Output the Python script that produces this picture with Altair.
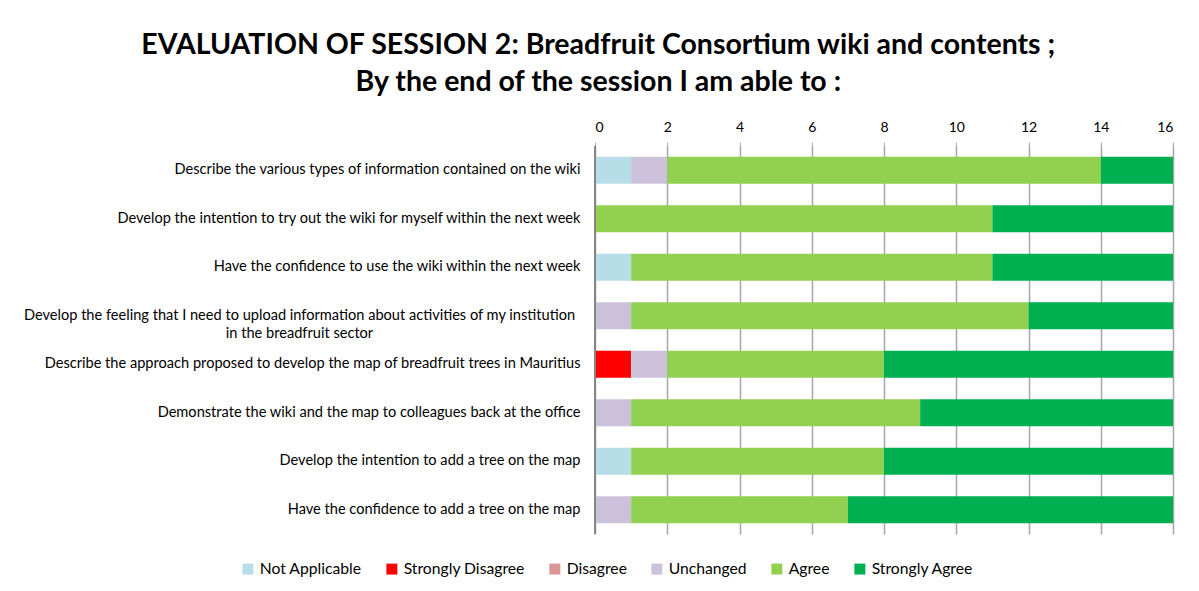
import altair as alt
import pandas as pd

statements = [
    "Describe the various types of information contained on the wiki",
    "Develop the intention to try out the wiki for myself within the next week",
    "Have the confidence to use the wiki within the next week",
    "Develop the feeling that I need to upload information about activities of my institution|in the breadfruit sector",
    "Describe the approach proposed to develop the map of breadfruit trees in Mauritius",
    "Demonstrate the wiki and the map to colleagues back at the office",
    "Develop the intention to add a tree on the map",
    "Have the confidence to add a tree on the map",
]
responses = ["Not Applicable", "Strongly Disagree", "Disagree", "Unchanged", "Agree", "Strongly Agree"]
colors = ["#b7dde8", "#ff0000", "#d99694", "#ccc1da", "#92d050", "#00b050"]

not_applicable    = [1, 0, 1, 0, 0, 0, 1, 0]
strongly_disagree = [0, 0, 0, 0, 1, 0, 0, 0]
disagree          = [0, 0, 0, 0, 0, 0, 0, 0]
unchanged         = [1, 0, 0, 1, 1, 1, 0, 1]
agree             = [12, 11, 10, 11, 6, 8, 7, 6]
strongly_agree    = [2, 5, 5, 4, 8, 7, 8, 9]

series = [not_applicable, strongly_disagree, disagree, unchanged, agree, strongly_agree]
rows = []
for ri, (resp, vals) in enumerate(zip(responses, series)):
    for s, v in zip(statements, vals):
        rows.append({"statement": s, "response": resp, "count": v, "order": ri})
df = pd.DataFrame(rows)

long_label = statements[3]
font = "Lato"

chart = alt.Chart(df).mark_bar().encode(
    y=alt.Y("statement:N", sort=statements, title=None,
            scale=alt.Scale(paddingInner=0.44, paddingOuter=0.22),
            axis=alt.Axis(
                labelExpr="split(datum.label, '|')",
                labelFont=font, labelFontSize=14.6, labelColor="#000000",
                labelLimit=700, ticks=False, domain=False, labelLineHeight=18,
                labelAlign=alt.ConditionalAxisLabelAlign(
                    condition={"test": f"datum.value == '{long_label}'", "value": "center"},
                    value="right"),
                labelPadding=alt.ConditionalAxisNumber(
                    condition={"test": f"datum.value == '{long_label}'", "value": 296},
                    value=15),
            )),
    x=alt.X("count:Q", title=None, stack="zero",
            scale=alt.Scale(domain=[0, 16], nice=False),
            axis=alt.Axis(orient="top", values=list(range(0, 17, 2)),
                          labelFont=font, labelFontSize=14, labelColor="#000000",
                          labelPadding=8, tickSize=4, tickColor="#a6a6a6",
                          grid=True, gridColor="#a6a6a6", gridWidth=1.5,
                          domain=False)),
    color=alt.Color("response:N", scale=alt.Scale(domain=responses, range=colors),
                    sort=responses,
                    legend=alt.Legend(orient="none", direction="horizontal", title=None,
                                      legendX=-355, legendY=415,
                                      symbolType="square", symbolSize=120, symbolStrokeWidth=0,
                                      labelFont=font, labelFontSize=15.7, labelColor="#000000",
                                      columnPadding=22)),
    order=alt.Order("order:Q"),
)

left_rule = alt.Chart(pd.DataFrame({"x": [0]})).mark_rule(color="#868686", strokeWidth=2).encode(x="x:Q")

final = alt.layer(chart, left_rule).properties(
    width=578, height=388,
    title=alt.TitleParams(
        ["EVALUATION OF SESSION 2: Breadfruit Consortium wiki and contents ;",
         "By the end of the session I am able to :"],
        font=font, fontSize=28.5, fontWeight="bold", color="#000000",
        anchor="middle", frame="bounds", lineHeight=37, offset=24),
    padding={"left": 15, "top": 22, "right": 10, "bottom": 5},
).configure_view(stroke=None)

final.save("out.html", embed_options={"renderer": "svg", "actions": False})
